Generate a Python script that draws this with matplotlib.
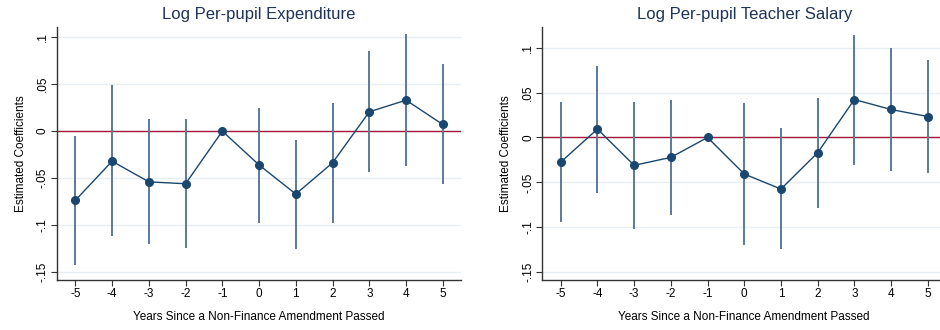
import numpy as np
import matplotlib
matplotlib.use("Agg")
import matplotlib.pyplot as plt

plt.rcParams['font.family'] = ['Liberation Sans', 'DejaVu Sans']

years = [-5, -4, -3, -2, -1, 0, 1, 2, 3, 4, 5]
xtick_labels = [str(v) for v in years]

# Log per-pupil expenditure
exp_coef = [-0.0737, -0.032, -0.054, -0.056, 0.0, -0.036, -0.067, -0.0337, 0.0206, 0.033, 0.0071]
exp_lo = [-0.142, -0.112, -0.1206, -0.124, 0.0, -0.0975, -0.125, -0.0975, -0.0436, -0.0376, -0.0567]
exp_hi = [-0.0053, 0.049, 0.0124, 0.0124, 0.0, 0.0248, -0.0096, 0.030, 0.085, 0.103, 0.0713]

# Log per-pupil teacher salary
sal_coef = [-0.0274, 0.0093, -0.031, -0.0222, 0.0, -0.0407, -0.0574, -0.017, 0.0422, 0.0311, 0.0233]
sal_lo = [-0.094, -0.0615, -0.1015, -0.0867, 0.0, -0.120, -0.124, -0.078, -0.0304, -0.0374, -0.0396]
sal_hi = [0.0392, 0.080, 0.0389, 0.0422, 0.0, 0.0378, 0.0104, 0.0444, 0.1144, 0.0997, 0.0867]

yticks = [-0.15, -0.1, -0.05, 0, 0.05, 0.1]
ytick_labels = ['-.15', '-.1', '-.05', '0', '.05', '.1']

navy = '#1a476f'
ci_col = '#5a7a9a'
grid_col = '#e6eff1'
zero_col = '#a81838'
title_col = '#1e3358'

fig = plt.figure(figsize=(9.4, 3.3), dpi=100)
ax1 = fig.add_axes([0.0606, 0.1515, 0.430, 0.767])
ax2 = fig.add_axes([0.577, 0.1515, 0.4295, 0.767])

panels = [
    (ax1, 'Log Per-pupil Expenditure', exp_coef, exp_lo, exp_hi, (-0.1585, 0.111)),
    (ax2, 'Log Per-pupil Teacher Salary', sal_coef, sal_lo, sal_hi, (-0.1586, 0.123)),
]

for ax, title, coef, lo, hi, ylim in panels:
    for yt in yticks:
        ax.axhline(yt, color=grid_col, lw=1, zorder=0)
    ax.axhline(0, color=zero_col, lw=1, zorder=1)
    ax.vlines(years, lo, hi, color=ci_col, lw=1.4, zorder=2)
    ax.plot(years, coef, color=navy, lw=1, marker='o', ms=5.5,
            mfc=navy, mec=navy, zorder=3)
    ax.set_xlim(-5.5, 5.5)
    ax.set_ylim(*ylim)
    ax.set_xticks(years)
    ax.set_xticklabels(xtick_labels, fontsize=8.5)
    ax.set_yticks(yticks)
    ax.set_yticklabels(ytick_labels, fontsize=8.5, rotation=90, va='center')
    ax.tick_params(axis='both', length=4, width=0.8, color='#333333', pad=2)
    for s in ['top', 'right']:
        ax.spines[s].set_visible(False)
    for s in ['left', 'bottom']:
        ax.spines[s].set_linewidth(1)
        ax.spines[s].set_color('#333333')
    ax.set_title(title, fontsize=12, color=title_col, pad=6)
    ax.set_xlabel('Years Since a Non-Finance Amendment Passed', fontsize=8.5, labelpad=8)
    ax.set_ylabel('Estimated Coefficients', fontsize=8.5, labelpad=7)

fig.savefig('out.png', dpi=100, facecolor='white')
